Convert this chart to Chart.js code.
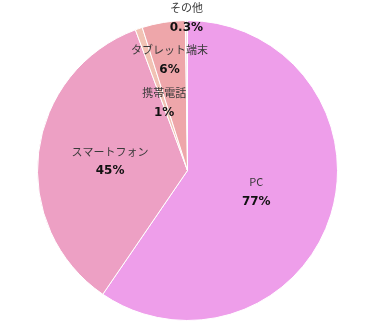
<!DOCTYPE html>
<html><head><meta charset="utf-8">
<script src="https://cdn.jsdelivr.net/npm/chart.js@4"></script>
<style>html,body{margin:0;padding:0;background:#fff;}#wrap{width:370px;height:336px;}</style>
</head><body><div id="wrap"><canvas id="c" width="370" height="336"></canvas></div>
<script>
const categories = ["PC", "スマートフォン", "携帯電話", "タブレット端末", "その他"];
const values = [77, 45, 1, 6, 0.3];
const valueLabels = ["77%", "45%", "1%", "6%", "0.3%"];
const colors = ["#ee9eea", "#eda0c4", "#f1c2b4", "#eea6aa", "#f6dde6"];
const labelRadius = [0.48, 0.52, 0.48, 0.75, 1.02];

const labelPlugin = {
  id: 'sliceLabels',
  afterDatasetsDraw(chart) {
    const ctx = chart.ctx;
    const meta = chart.getDatasetMeta(0);
    meta.data.forEach((arc, i) => {
      const p = arc.getProps(['x','y','startAngle','endAngle','outerRadius'], true);
      const mid = (p.startAngle + p.endAngle) / 2;
      const r = p.outerRadius * labelRadius[i];
      const cx = p.x + Math.cos(mid) * r;
      const cy = p.y + Math.sin(mid) * r;
      ctx.save();
      ctx.textAlign = 'center';
      ctx.textBaseline = 'middle';
      ctx.fillStyle = '#3a3a3a';
      ctx.font = '11px "Noto Sans CJK JP"';
      ctx.fillText(categories[i], cx, cy - 9.5);
      ctx.fillStyle = '#111';
      ctx.font = 'bold 12px "DejaVu Sans"';
      ctx.fillText(valueLabels[i], cx, cy + 10);
      ctx.restore();
    });
  }
};

new Chart(document.getElementById('c'), {
  type: 'pie',
  data: {
    labels: categories,
    datasets: [{
      data: values,
      backgroundColor: colors,
      borderColor: '#ffffff',
      borderWidth: 1
    }]
  },
  options: {
    responsive: false,
    animation: false,
    layout: { padding: { top: 20, bottom: 15, left: 37, right: 32 } },
    plugins: { legend: { display: false }, tooltip: { enabled: false } }
  },
  plugins: [labelPlugin]
});
</script></body></html>
